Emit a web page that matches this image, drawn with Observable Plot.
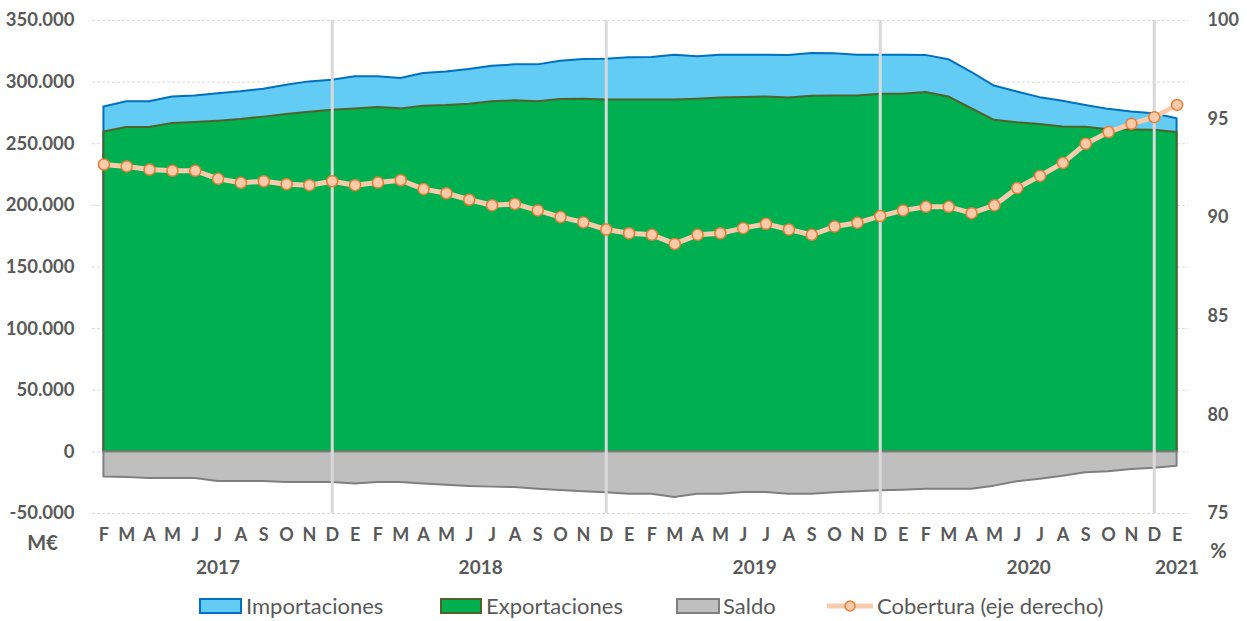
<!DOCTYPE html>
<html>
<head>
<meta charset="utf-8">
<script src="https://cdn.jsdelivr.net/npm/d3@7"></script>
<script src="https://cdn.jsdelivr.net/npm/@observablehq/plot@0.6"></script>
<style>
  html, body { margin: 0; padding: 0; background: #fff; }
  body { width: 1247px; height: 621px; overflow: hidden; font-family: Lato, "Open Sans", sans-serif; color: #595959; }
  #legend { position: relative; width: 1247px; height: 31px; }
  #legend .sw { position: absolute; top: 8px; height: 16px; box-sizing: border-box; border-width: 2px; border-style: solid; }
  #legend .tx { position: absolute; top: 0; height: 31px; line-height: 31px; font-size: 22px; white-space: nowrap; }
</style>
</head>
<body>
<div id="chart"></div>
<div id="legend"></div>
<script>
// Month labels (Feb 2017 .. Jan 2021)
const months = [
  "F","M","A","M","J","J","A","S","O","N","D",
  "E","F","M","A","M","J","J","A","S","O","N","D",
  "E","F","M","A","M","J","J","A","S","O","N","D",
  "E","F","M","A","M","J","J","A","S","O","N","D",
  "E"
];
const years = ["2017", "2018", "2019", "2020", "2021"];
const monthsPerYear = [11, 12, 12, 12, 1];

// Values in M€
const importaciones = [
  279800, 284000, 284000, 288000, 288800, 290500, 292100, 294300, 297500, 300200,
  301600, 304300, 304300, 303000, 307000, 308300, 310200, 312900, 314000, 314000,
  317000, 318400, 318600, 319700, 320000, 321900, 320500, 321900, 321900, 321900,
  321700, 323300, 323000, 321900, 321900, 321900, 321700, 318200, 308000, 296800,
  292000, 287400, 284400, 281100, 277900, 275700, 274400, 270300
];
const exportaciones = [
  259600, 263200, 263200, 266400, 267200, 268300, 269700, 271600, 273700, 275600,
  277200, 278100, 279400, 278300, 280500, 281000, 282100, 284000, 284800, 284000,
  285900, 286200, 285400, 285400, 285400, 285400, 286200, 287200, 287500, 288000,
  287200, 288600, 288800, 288800, 290200, 290200, 291600, 288000, 278400, 269000,
  267000, 265700, 263500, 263300, 261400, 261100, 260900, 259200
];
const saldo = [
  -20300, -20800, -21600, -21600, -21600, -24000, -24000, -24000, -24900, -24900,
  -24900, -26000, -24900, -24900, -26000, -27000, -28000, -28600, -28900, -30300,
  -31400, -32400, -33200, -34300, -34300, -37000, -34300, -34300, -33000, -33000,
  -34300, -34300, -33200, -32400, -31600, -31100, -30300, -30300, -30300, -27800,
  -24300, -22200, -19700, -17000, -16200, -14300, -13200, -11600
];
// Cobertura (%), right axis
const cobertura = [
  92.70, 92.60, 92.44, 92.38, 92.38, 91.97, 91.77, 91.85, 91.70, 91.65,
  91.85, 91.65, 91.78, 91.90, 91.45, 91.24, 90.91, 90.63, 90.70, 90.37,
  90.03, 89.76, 89.40, 89.21, 89.13, 88.67, 89.13, 89.21, 89.47, 89.69,
  89.40, 89.13, 89.55, 89.74, 90.08, 90.37, 90.55, 90.55, 90.23, 90.63,
  91.50, 92.12, 92.78, 93.75, 94.34, 94.76, 95.10, 95.72
];

const leftTicks = [-50000, 0, 50000, 100000, 150000, 200000, 250000, 300000, 350000];
const rightTicks = [75, 80, 85, 90, 95, 100];

// Build table
const yearOf = [];
monthsPerYear.forEach((n, k) => { for (let j = 0; j < n; j++) yearOf.push(years[k]); });
const table = months.map((m, i) => ({
  i, month: m, year: yearOf[i],
  imp: importaciones[i], exp: exportaciones[i], saldo: saldo[i], cob: cobertura[i]
}));
const yearLabels = years.map(y => ({ year: y, x: d3.mean(table.filter(d => d.year === y), d => d.i) }));

// Right axis (75..100) mapped onto the left domain (-50.000..350.000)
const L0 = -50000, L1 = 350000, R0 = 75, R1 = 100;
const toLeft = v => L0 + (v - R0) * (L1 - L0) / (R1 - R0);
const fromLeft = v => Math.round(R0 + (v - L0) * (R1 - R0) / (L1 - L0));

const fmtES = v => v === 0 ? "0" : (v < 0 ? "-" : "") + d3.format(",")(Math.abs(v)).replace(/,/g, ".");

const H = 590;
const chart = Plot.plot({
  width: 1247,
  height: H,
  marginLeft: 92,
  marginRight: 59,
  marginTop: 20,
  marginBottom: H - 513,
  x: { type: "linear", domain: [-0.5, months.length - 0.5], axis: null },
  y: { domain: [L0, L1], axis: null },
  style: { fontFamily: "Lato, 'Open Sans', sans-serif", color: "#595959", background: "white", overflow: "visible" },
  marks: [
    Plot.ruleY(leftTicks, { stroke: "#D9D9D9", strokeWidth: 1, strokeDasharray: "3,2" }),
    Plot.area(table, { x1: "i", y1: 0, y2: "imp", fill: "#63CCF5", stroke: "#0070C0", strokeWidth: 2 }),
    Plot.area(table, { x1: "i", y1: 0, y2: "exp", fill: "#00B050", stroke: "#4F6228", strokeWidth: 2 }),
    Plot.area(table, { x1: "i", y1: 0, y2: "saldo", fill: "#BFBFBF", stroke: "#7F7F7F", strokeWidth: 2 }),
    Plot.ruleX(table.filter(d => d.month === "D"), { x: "i", stroke: "#D9D9D9", strokeWidth: 3 }),
    Plot.line(table, { x: "i", y: d => toLeft(d.cob), stroke: "#F8CBAD", strokeWidth: 5 }),
    Plot.dot(table, { x: "i", y: d => toLeft(d.cob), r: 5.5, fill: "#F8CBAD", stroke: "#ED7D31", strokeWidth: 1.5 }),
    Plot.axisY(leftTicks, { anchor: "left", tickSize: 0, tickPadding: 18, tickFormat: fmtES, fontSize: 18.5, fontWeight: "bold" }),
    Plot.axisY(rightTicks.map(toLeft), { anchor: "right", tickSize: 0, tickPadding: 19, tickFormat: fromLeft, fontSize: 18, fontWeight: "bold" }),
    Plot.axisX(d3.range(months.length), { anchor: "bottom", tickSize: 0, tickPadding: 15, tickFormat: i => months[i], fontSize: 18, fontWeight: "bold" }),
    Plot.text(yearLabels, { x: "x", text: "year", frameAnchor: "bottom", dy: 60, fontSize: 19, fontWeight: "bold", fill: "#595959" }),
    Plot.text(["M€"], { frameAnchor: "bottom-left", dx: -50, dy: 36, textAnchor: "middle", fontSize: 20, fontWeight: "bold", fill: "#595959" }),
    Plot.text(["%"], { frameAnchor: "bottom-right", dx: 30, dy: 44, textAnchor: "middle", fontSize: 20, fontWeight: "bold", fill: "#595959" })
  ]
});
document.getElementById("chart").appendChild(chart);

// Legend
const legendItems = [
  { label: "Importaciones", kind: "box", fill: "#63CCF5", stroke: "#0070C0", sx: 199, sw: 43, tx: 246 },
  { label: "Exportaciones", kind: "box", fill: "#00B050", stroke: "#4F6228", sx: 440, sw: 42, tx: 486 },
  { label: "Saldo", kind: "box", fill: "#BFBFBF", stroke: "#7F7F7F", sx: 676, sw: 44, tx: 723 },
  { label: "Cobertura (eje derecho)", kind: "line", fill: "#F8CBAD", stroke: "#ED7D31", sx: 827, sw: 46, tx: 877 }
];
const legend = d3.select("#legend");
for (const it of legendItems) {
  if (it.kind === "box") {
    legend.append("div").attr("class", "sw")
      .style("left", it.sx + "px").style("width", it.sw + "px")
      .style("background", it.fill).style("border-color", it.stroke);
  } else {
    const s = legend.append("svg").attr("width", it.sw).attr("height", 31)
      .style("position", "absolute").style("left", it.sx + "px").style("top", "0px");
    s.append("line").attr("x1", 0).attr("x2", it.sw).attr("y1", 16).attr("y2", 16)
      .attr("stroke", it.fill).attr("stroke-width", 5);
    s.append("circle").attr("cx", it.sw / 2).attr("cy", 16).attr("r", 5)
      .attr("fill", it.fill).attr("stroke", it.stroke).attr("stroke-width", 1.5);
  }
  legend.append("div").attr("class", "tx").style("left", it.tx + "px").text(it.label);
}
</script>
</body>
</html>
